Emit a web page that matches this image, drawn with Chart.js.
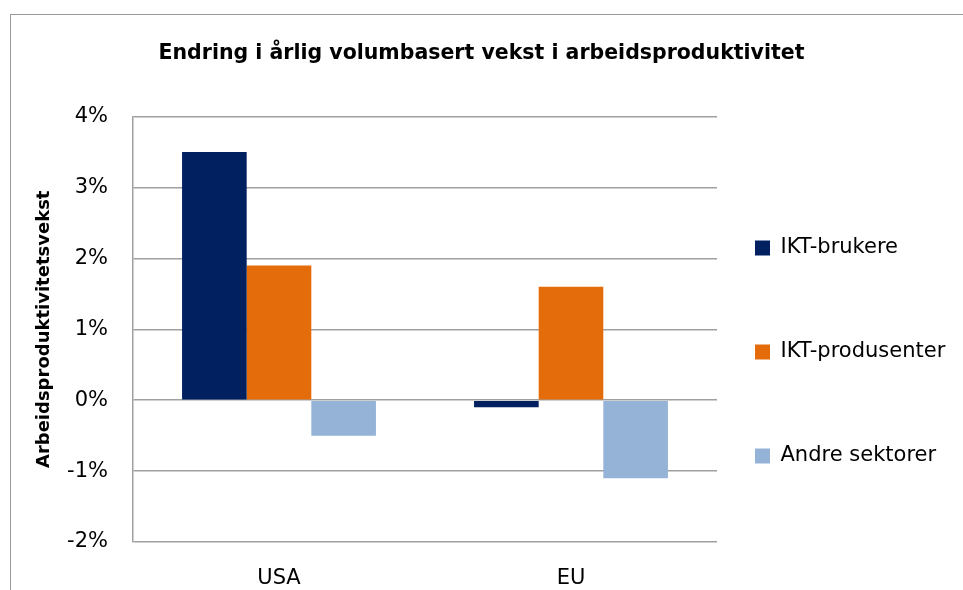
<!DOCTYPE html>
<html>
<head>
<meta charset="utf-8">
<script src="https://cdn.jsdelivr.net/npm/chart.js@4"></script>
<style>
  html, body { margin: 0; padding: 0; background: #fff; }
  body { width: 963px; height: 590px; position: relative; overflow: hidden; }
  #frame { position: absolute; left: 10px; top: 14px; width: 1000px; height: 1000px;
           border: 1px solid #9a9a9a; box-sizing: border-box; }
  #wrap { position: absolute; left: 0; top: 0; width: 963px; height: 590px; }
</style>
</head>
<body>
<div id="frame"></div>
<div id="wrap"><canvas id="chart" width="963" height="590"></canvas></div>
<script>
// Chart data
const regions = ["USA", "EU"];
const ictUsers = [3.5, -0.1];
const ictProducers = [1.9, 1.6];
const otherSectors = [-0.5, -1.1];

const FONT = "'DejaVu Sans', sans-serif";

// move the legend a bit closer to the plot and down, like the original
const legendShift = {
  id: "legendShift",
  afterLayout(chart) {
    const lg = chart.legend;
    lg.left -= 45;
    lg.width += 45;
    lg.top += 57; lg.bottom += 57;
  }
};

new Chart(document.getElementById("chart"), {
  type: "bar",
  data: {
    labels: regions,
    datasets: [
      { label: "IKT-brukere", data: ictUsers, backgroundColor: "#002060" },
      { label: "IKT-produsenter", data: ictProducers, backgroundColor: "#E46C0A" },
      { label: "Andre sektorer", data: otherSectors, backgroundColor: "#95B3D7" }
    ]
  },
  plugins: [legendShift],
  options: {
    responsive: false,
    animation: false,
    devicePixelRatio: 1,
    layout: { padding: 0 },
    datasets: { bar: { categoryPercentage: 0.664, barPercentage: 1.0 } },
    plugins: {
      title: {
        display: true,
        text: "Endring i årlig volumbasert vekst i arbeidsproduktivitet",
        color: "#000",
        font: { family: FONT, size: 20.5, weight: "bold" },
        padding: { top: 41, bottom: 51 }
      },
      legend: {
        position: "right",
        maxWidth: 246,
        labels: {
          color: "#000",
          font: { family: FONT, size: 21 },
          boxWidth: 15,
          boxHeight: 15,
          padding: 83
        }
      },
      tooltip: { enabled: false }
    },
    scales: {
      x: {
        afterFit: scale => { scale.height = 48; },
        grid: { display: false, drawTicks: false },
        border: { display: false },
        ticks: { color: "#000", font: { family: FONT, size: 21 }, padding: 24 }
      },
      y: {
        min: -2,
        max: 4,
        afterFit: scale => { scale.width = 133; },
        ticks: {
          stepSize: 1,
          color: "#000",
          font: { family: FONT, size: 21 },
          padding: 25,
          callback: v => v + "%"
        },
        grid: { color: "#a0a0a0", lineWidth: 1.5, drawTicks: false },
        border: { color: "#a0a0a0", width: 1.5 },
        title: {
          display: true,
          text: "Arbeidsproduktivitetsvekst",
          color: "#000",
          font: { family: FONT, size: 18, weight: "bold" },
          padding: { top: 34, bottom: 11 }
        }
      }
    }
  }
});
</script>
</body>
</html>
